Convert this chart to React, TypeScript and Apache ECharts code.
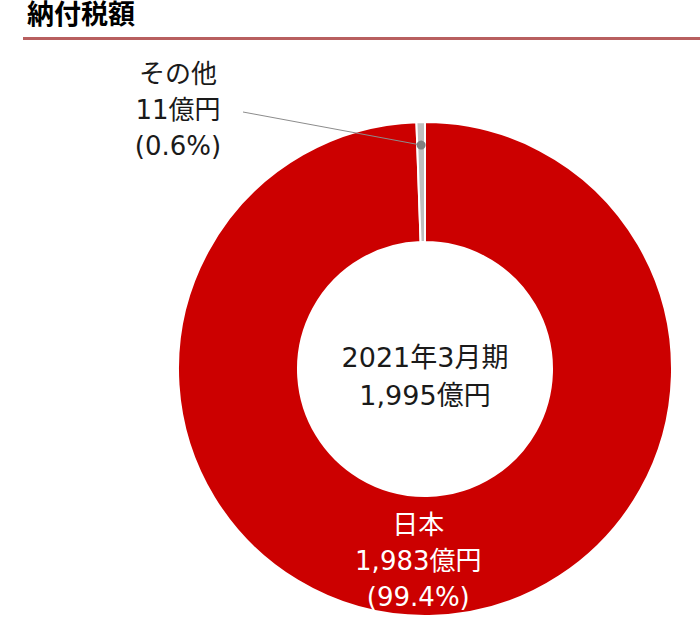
import * as echarts from "echarts";
import { useEffect, useRef } from "react";

const titleText = "納付税額";
const periodLabel = "2021年3月期";
const totalLabel = "1,995億円";
const regionNames = ["日本", "その他"];
const regionValues = [1983, 11];
const regionShares = ["99.4%", "0.6%"];
const regionColors = ["#cc0000", "#bfbfbf"];

const FONT = "'DejaVu Sans', 'Noto Sans CJK JP', sans-serif";
const CX = 425;
const CY = 369;
const R_IN = 127;
const R_OUT = 247;

const fmt = (n: number) => n.toLocaleString("en-US");

export default function App() {
  const chartRef = useRef<HTMLDivElement | null>(null);

  useEffect(() => {
    if (!chartRef.current) return;
    const chart = echarts.init(chartRef.current, undefined, { renderer: "svg" });

    const total = regionValues.reduce((a, b) => a + b, 0);
    // small slice sits just left of 12 o'clock (clockwise from 90deg)
    const otherMid = ((90 + ((regionValues[1] / total) * 360) / 2) * Math.PI) / 180;
    const dotR = R_OUT - 23;
    const dotX = CX + dotR * Math.cos(otherMid);
    const dotY = CY - dotR * Math.sin(otherMid);

    const labelStyle = {
      fontSize: 26,
      lineHeight: 36,
      fontFamily: FONT,
    };

    const option: echarts.EChartsOption = {
      animation: false,
      textStyle: { fontFamily: FONT },
      graphic: [
        {
          type: "text",
          left: 27,
          top: 1,
          style: {
            text: titleText,
            fontSize: 27,
            fontWeight: "bold",
            fontFamily: FONT,
            fill: "#000",
          },
        },
        {
          type: "rect",
          shape: { x: 23, y: 37, width: 677, height: 3 },
          style: { fill: "#b85f5f" },
        },
        {
          type: "text",
          x: CX,
          y: CY + 7,
          style: {
            text: `${periodLabel}\n${totalLabel}`,
            fontSize: 27,
            lineHeight: 38,
            fontFamily: FONT,
            fill: "#1a1a1a",
            align: "center",
            verticalAlign: "middle",
          },
        },
        // leader line from the その他 label to its slice, drawn above the ring
        {
          type: "line",
          z: 100,
          shape: { x1: 243, y1: 112, x2: dotX, y2: dotY },
          style: { stroke: "#8c8c8c", lineWidth: 1 },
        },
        {
          type: "circle",
          z: 101,
          shape: { cx: dotX, cy: dotY, r: 4.5 },
          style: { fill: "#808080" },
        },
      ],
      series: [
        {
          type: "pie",
          center: [CX, CY],
          radius: [R_IN, R_OUT],
          startAngle: 90,
          clockwise: true,
          avoidLabelOverlap: false,
          itemStyle: { borderColor: "#fff", borderWidth: 2 },
          emphasis: { disabled: true },
          data: regionNames.map((name, i) => ({
            name,
            value: regionValues[i],
            itemStyle: { color: regionColors[i] },
            label: {
              ...labelStyle,
              position: i === 0 ? "inside" : "outside",
              color: i === 0 ? "#fff" : "#1a1a1a",
              formatter: `${name}\n${fmt(regionValues[i])}億円\n(${regionShares[i]})`,
            },
            labelLine: { show: false },
          })),
          labelLayout: (params: any) => {
            if (params.dataIndex === 0) {
              return { dx: -10, dy: 2 };
            }
            return {
              x: 178,
              y: 110,
              align: "center",
              verticalAlign: "middle",
            };
          },
        },
      ],
    };

    chart.setOption(option);
    return () => chart.dispose();
  }, []);

  return (
    <div
      ref={chartRef}
      style={{ position: "absolute", left: 0, top: 0, width: 700, height: 620 }}
    />
  );
}
